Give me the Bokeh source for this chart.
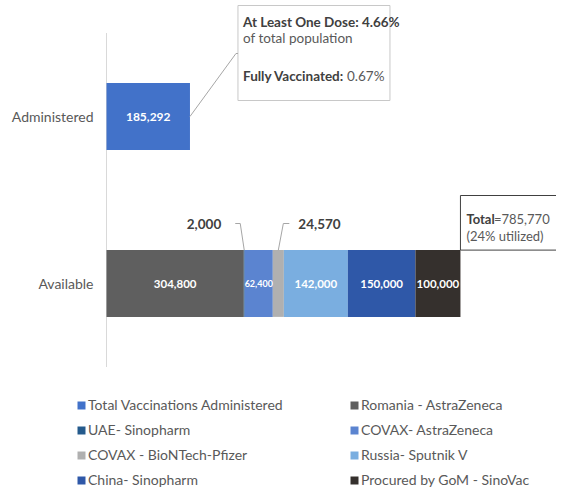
import numpy as np
from bokeh.plotting import figure
from bokeh.models import Range1d, Legend, LegendItem, ColumnDataSource
from bokeh.core.properties import value
from bokeh.embed import file_html
from bokeh.resources import INLINE

# ---------------- data ----------------
categories = ["Available", "Administered"]
administered_label = "Total Vaccinations Administered"
administered_value = 185292

supply_labels = ["Romania - AstraZeneca", "UAE- Sinopharm", "COVAX- AstraZeneca",
                 "COVAX - BioNTech-Pfizer", "Russia- Sputnik V", "China- Sinopharm",
                 "Procured by GoM - SinoVac"]
supply_values = [304800, 2000, 62400, 24570, 142000, 150000, 100000]
supply_colors = ["#5f5f5f", "#245a8c", "#5b84d0", "#b0b0b0", "#7aaee0", "#2f58a8", "#35302d"]
admin_color = "#4272c9"

one_dose_pct = "4.66%"
fully_pct = "0.67%"
utilized_pct = "24%"

# ---------------- styling / geometry ----------------
FONT = "Lato"
W, H = 556, 488
X0 = 106            # pixel position of the value axis origin
PX = 2220.0         # data units per pixel (x)
Y_AD = 116          # pixel row of the top category
PY = 1.0 / 167.0    # data units per pixel (y)
BH = 0.4

total = sum(supply_values)
ends = np.cumsum(supply_values)
starts = ends - np.array(supply_values)

y_av = categories.index("Available")
y_ad = categories.index("Administered")

p = figure(width=W, height=H, output_backend="svg", toolbar_location=None,
           x_range=Range1d(-X0 * PX, (W - X0) * PX),
           y_range=Range1d(y_ad - (H - Y_AD) * PY, y_ad + Y_AD * PY),
           min_border_left=0, min_border_right=0, min_border_top=0, min_border_bottom=0)
p.outline_line_color = None
p.xgrid.visible = False
p.ygrid.visible = False
p.xaxis.visible = False
p.yaxis.visible = False

# category axis line and labels
p.line(x=[0, 0], y=[y_av - 0.5, y_ad + 0.5], line_color="#d9d9d9", line_width=1)
p.text(x=[-13 * PX] * len(categories), y=list(range(len(categories))), text=categories,
       text_color="#595959", text_font=value(FONT), text_font_size="14px",
       text_align="right", text_baseline="middle")

items = []
r_ad = p.hbar(y=[y_ad], left=[0], right=[administered_value], height=BH,
              fill_color=admin_color, line_color=None)
items.append(LegendItem(label=administered_label, renderers=[r_ad]))

for lab, s, e, c in zip(supply_labels, starts, ends, supply_colors):
    r = p.hbar(y=[y_av], left=[s], right=[e], height=BH, fill_color=c, line_color=None)
    items.append(LegendItem(label=lab, renderers=[r]))

# values inside bars
p.text(x=[administered_value / 2], y=[y_ad], text=[f"{administered_value:,}"],
       text_color="white", text_font=value(FONT), text_font_size="12px",
       text_font_style="bold", text_align="center", text_baseline="middle")

inside = [i for i, v in enumerate(supply_values) if v >= 50000]
src_in = ColumnDataSource(dict(
    x=[(starts[i] + ends[i]) / 2 for i in inside],
    y=[y_av] * len(inside),
    t=[f"{supply_values[i]:,}" for i in inside],
    s=["9px" if supply_values[i] < 100000 else "11.5px" for i in inside]))
p.text(x="x", y="y", text="t", source=src_in, text_color="white",
       text_font=value(FONT), text_font_size="s", text_font_style="bold",
       text_align="center", text_baseline="middle")

# small segments with leader lines
lead_col = "#a6a6a6"
top = y_av + BH / 2
ly = y_av + 60 * PY
i_uae = supply_values.index(2000)
ax = starts[i_uae] + supply_values[i_uae] / 2
p.line(x=[ax, ax - 4 * PX, ax - 9 * PX], y=[top, ly, ly], line_color=lead_col, line_width=1)
p.text(x=[ax - 23 * PX], y=[ly], text=[f"{supply_values[i_uae]:,}"], text_color="#404040",
       text_font=value(FONT), text_font_size="13.5px", text_font_style="bold",
       text_align="right", text_baseline="middle")

i_pf = supply_values.index(24570)
bx = starts[i_pf] + supply_values[i_pf] / 2
p.line(x=[bx, bx + 5 * PX, bx + 11 * PX], y=[top, ly, ly], line_color=lead_col, line_width=1)
p.text(x=[bx + 20 * PX], y=[ly], text=[f"{supply_values[i_pf]:,}"], text_color="#404040",
       text_font=value(FONT), text_font_size="13.5px", text_font_style="bold",
       text_align="left", text_baseline="middle")

# callout box for administered
bl = administered_value + 48 * PX
p.quad(left=[bl], right=[bl + 152 * PX], bottom=[y_ad + 16 * PY], top=[y_ad + 111 * PY],
       fill_color="white", line_color="#c8c8c8", line_width=1)
cy = y_ad + 63 * PY
p.line(x=[administered_value, bl - 2 * PX, bl], y=[y_ad, cy, cy],
       line_color=lead_col, line_width=1)
tx = bl + 5 * PX
p.text(x=[tx], y=[y_ad + 95 * PY], text=[f"At Least One Dose: {one_dose_pct}"],
       text_color="#404040", text_font=value(FONT), text_font_size="13.5px",
       text_font_style="bold", text_baseline="middle")
p.text(x=[tx], y=[y_ad + 78.5 * PY], text=["of total population"],
       text_color="#595959", text_font=value(FONT), text_font_size="13.5px",
       text_baseline="middle")
p.text(x=[tx], y=[y_ad + 41 * PY], text=["Fully Vaccinated:"],
       text_color="#404040", text_font=value(FONT), text_font_size="13.5px",
       text_font_style="bold", text_baseline="middle")
p.text(x=[tx + 104 * PX], y=[y_ad + 41 * PY], text=[fully_pct],
       text_color="#595959", text_font=value(FONT), text_font_size="13.5px",
       text_baseline="middle")

# total box
p.quad(left=[total], right=[total + 200 * PX], bottom=[top], top=[y_av + 88 * PY],
       fill_color="white", line_color="#404040", line_width=1)
p.text(x=[total + 6 * PX], y=[y_av + 65 * PY], text=["Total"], text_color="#404040",
       text_font=value(FONT), text_font_size="13px", text_font_style="bold",
       text_baseline="middle")
p.text(x=[total + 33.5 * PX], y=[y_av + 65 * PY], text=[f"={total:,}"], text_color="#595959",
       text_font=value(FONT), text_font_size="13px", text_baseline="middle")
p.text(x=[total + 6 * PX], y=[y_av + 48 * PY], text=[f"({utilized_pct} utilized)"],
       text_color="#595959", text_font=value(FONT), text_font_size="13px",
       text_baseline="middle")

legend = Legend(items=items, orientation="horizontal", ncols=2, location=(76, 0),
                glyph_width=10, glyph_height=10, label_height=17, label_width=253,
                label_standoff=2, spacing=8, padding=0, margin=0,
                border_line_color=None, background_fill_alpha=0,
                label_text_font=FONT, label_text_font_size="14px",
                label_text_color="#595959")
p.add_layout(legend)

open("out.html", "w").write(file_html(p, INLINE))
